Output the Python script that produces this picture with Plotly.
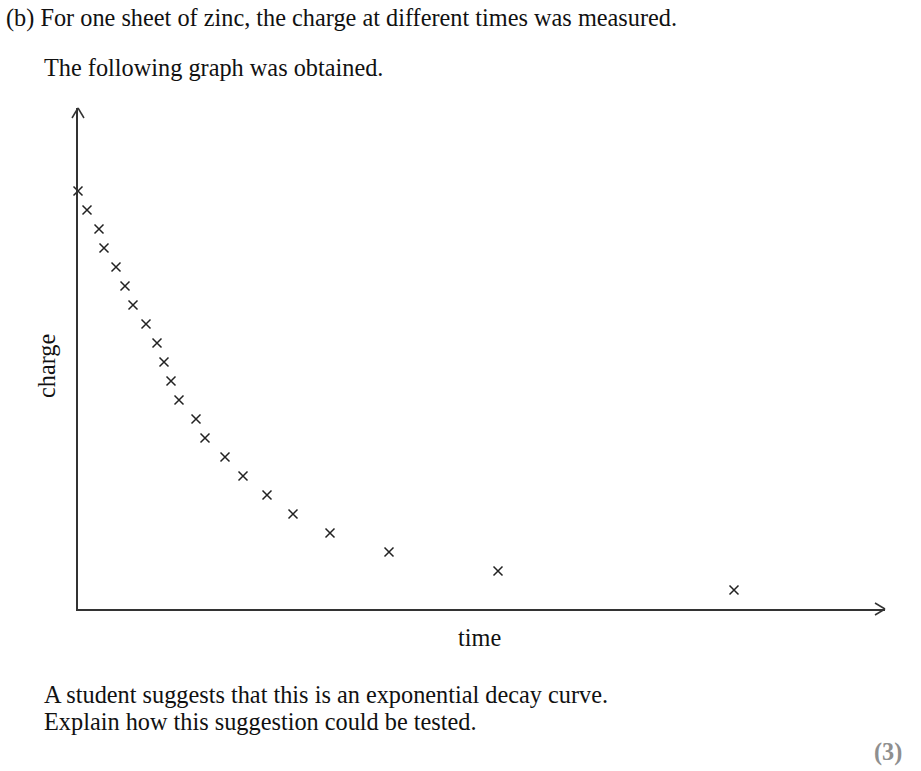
import plotly.graph_objects as go

# Data (arbitrary units)
time = [0.0, 0.9, 2.1, 2.6, 3.8, 4.7, 5.5, 6.8, 7.9, 8.6, 9.3, 10.1,
        11.8, 12.7, 14.7, 16.5, 18.9, 21.5, 25.2, 31.1, 42.0, 65.6]
charge = [22, 21, 20, 19, 18, 17, 16, 15, 14, 13, 12, 11,
          10, 9, 8, 7, 6, 5, 4, 3, 2, 1]

X_MAX = 80.7
Y_MAX = 26.37

W, H = 921, 771
L, R, T, B = 78, 36, 108, 162
PW, PH = W - L - R, H - T - B

def px(x):
    return (x - L) / PW

def py(y):
    return (H - B - y) / PH

SERIF = "Liberation Serif, Times New Roman, serif"
AX = "#333333"

fig = go.Figure()
fig.add_trace(go.Scatter(
    x=time, y=charge, mode="markers",
    marker=dict(symbol="x-thin", size=9, color="#222222",
                line=dict(width=1.5, color="#222222")),
    cliponaxis=False, hoverinfo="skip", showlegend=False))

fig.update_xaxes(range=[0, X_MAX], showline=True, linecolor=AX, linewidth=2,
                 showgrid=False, zeroline=False, showticklabels=False, ticks="")
fig.update_yaxes(range=[0, Y_MAX], showline=True, linecolor=AX, linewidth=2,
                 showgrid=False, zeroline=False, showticklabels=False, ticks="")

# arrow heads (open chevrons)
dx_y, dy_y = 6 / PW, 10 / PH
dx_x, dy_x = 10 / PW, 6 / PH
for (x0, y0, x1, y1) in [
    (-dx_y, 1 - dy_y, 0, 1), (0, 1, dx_y, 1 - dy_y),
    (1 - dx_x, dy_x, 1, 0), (1, 0, 1 - dx_x, -dy_x)]:
    fig.add_shape(type="line", xref="x domain", yref="y domain",
                  x0=x0, y0=y0, x1=x1, y1=y1,
                  line=dict(color=AX, width=1.5))

def txt(s, x, y, xanchor="left", size=24.3, color="#111111", angle=0):
    fig.add_annotation(text=s, xref="paper", yref="paper", x=px(x), y=py(y),
                       xanchor=xanchor, yanchor="middle", showarrow=False,
                       textangle=angle,
                       font=dict(family=SERIF, size=size, color=color))

txt("(b) For one sheet of zinc, the charge at different times was measured.", 4, 18)
txt("The following graph was obtained.", 42, 67)
txt("charge", 46, 366, xanchor="center", angle=-90)
txt("time", 479, 637, xanchor="center")
txt("A student suggests that this is an exponential decay curve.", 42, 694)
txt("Explain how this suggestion could be tested.", 42, 721)
txt("<b>(3)</b>", 904, 752, xanchor="right", color="#8f8f8f")

fig.update_layout(width=W, height=H, margin=dict(l=L, r=R, t=T, b=B),
                  plot_bgcolor="white", paper_bgcolor="white")

fig.write_html("out.html", config={"displayModeBar": False},
               post_script="document.body.style.margin='0';"
                           "document.body.style.overflow='hidden';")
